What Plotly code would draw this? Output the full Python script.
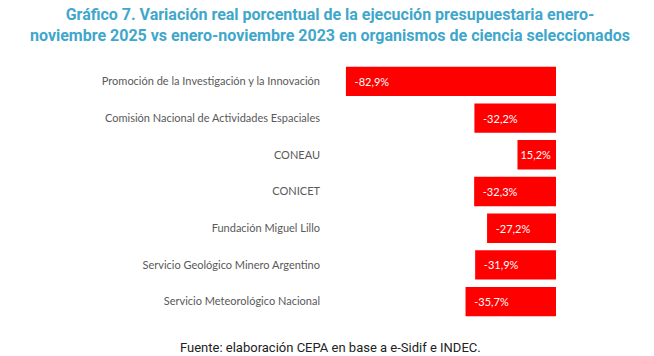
import plotly.graph_objects as go

categories = [
    "Promoción de la Investigación y la Innovación",
    "Comisión Nacional de Actividades Espaciales",
    "CONEAU",
    "CONICET",
    "Fundación Miguel Lillo",
    "Servicio Geológico Minero Argentino",
    "Servicio Meteorológico Nacional",
]
values = [-82.9, -32.2, 15.2, -32.3, -27.2, -31.9, -35.7]
labels = [f"{v:.1f}%".replace(".", ",") for v in values]
lengths = [abs(v) for v in values]

title_text = ("<b>Gráfico 7. Variación real porcentual de la ejecución presupuestaria enero-<br>"
              "noviembre 2025 vs enero-noviembre 2023 en organismos de ciencia seleccionados</b>")
source_text = "Fuente: elaboración CEPA en base a e-Sidif e INDEC."

fig = go.Figure(go.Bar(
    y=categories,
    x=lengths,
    orientation="h",
    marker=dict(color="#FF0000", line=dict(width=0)),
    width=0.8,
    text=[("  " + t) if L > 20 else t for t, L in zip(labels, lengths)],
    textposition="inside",
    insidetextanchor="end",
    textfont=dict(family="Lato", size=11, color="white"),
    cliponaxis=False,
    hoverinfo="skip",
))

fig.update_layout(
    width=654, height=356,
    margin=dict(l=333, r=98, t=63, b=36),
    paper_bgcolor="white", plot_bgcolor="white",
    showlegend=False,
    uniformtext=dict(minsize=11, mode="show"),
    xaxis=dict(range=[88, 0], visible=False, showgrid=False, zeroline=False),
    yaxis=dict(
        autorange="reversed",
        categoryorder="array", categoryarray=categories,
        showgrid=False, zeroline=False, showline=False, ticks="",
        ticklabelstandoff=12,
        tickfont=dict(family="Lato", size=11, color="#595959"),
    ),
    annotations=[
        dict(
            text=title_text,
            xref="paper", yref="paper", x=(330 - 333) / 223, y=1,
            xanchor="center", yanchor="top", yshift=60, align="center",
            showarrow=False,
            font=dict(family="Roboto", size=16, color="#3FA7CB"),
        ),
        dict(
            text=source_text,
            xref="paper", yref="paper", x=(330 - 333) / 223, y=0,
            xanchor="center", yanchor="top", yshift=-18,
            showarrow=False,
            font=dict(family="Roboto", size=13, color="#222222"),
        ),
    ],
)

fig.write_html(
    "out.html",
    config={"displayModeBar": False},
    post_script="document.body.style.margin='0';document.body.style.overflow='hidden';",
)
